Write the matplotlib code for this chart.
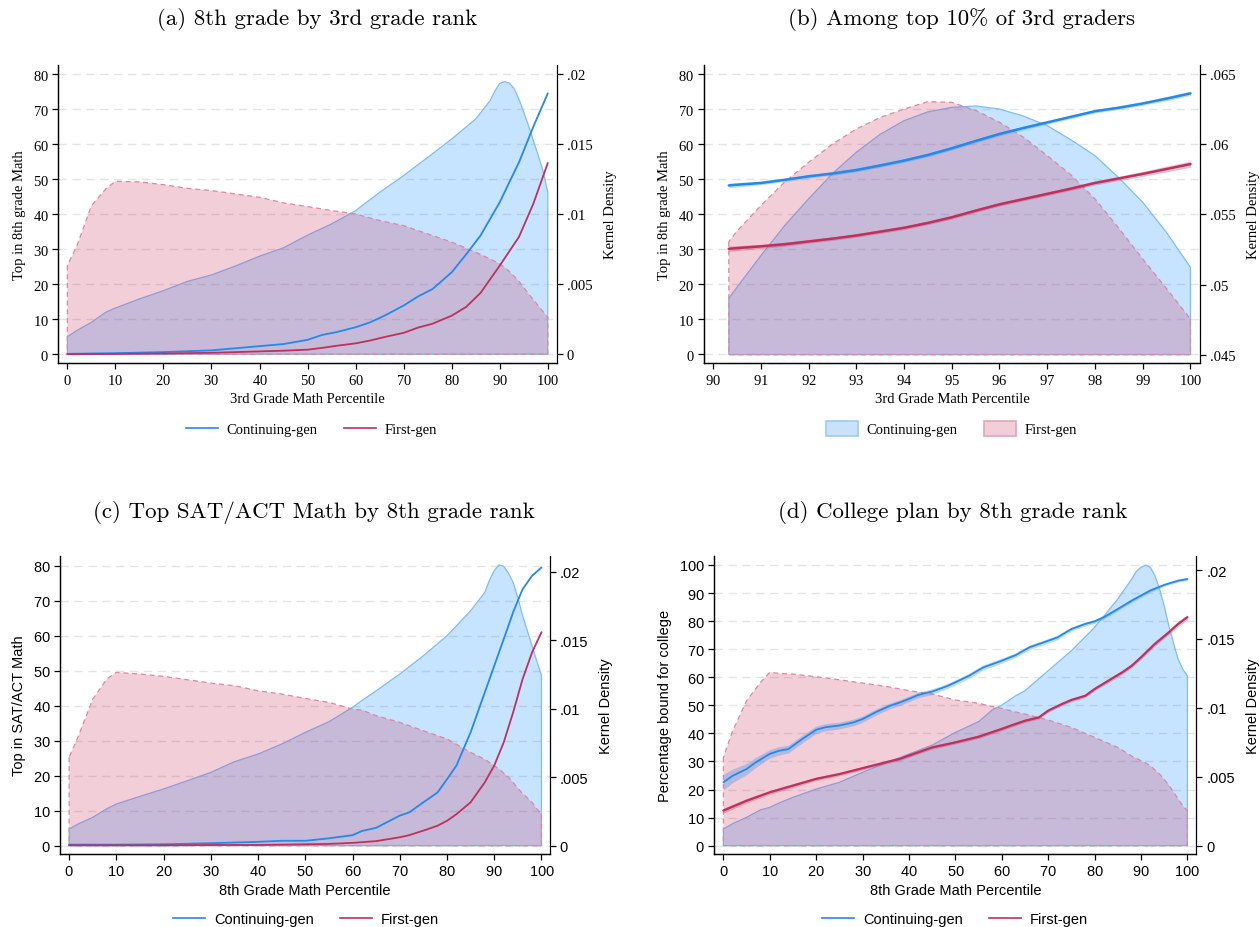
import matplotlib
matplotlib.use("Agg")
import matplotlib.pyplot as plt
from matplotlib.lines import Line2D
from matplotlib.patches import Patch

# ---- panel (a): 8th grade by 3rd grade rank ----
a_x = [0, 10, 20, 30, 40, 45, 50, 53, 56, 60, 63, 66, 70, 73, 76, 80, 83, 86, 90, 94, 97, 100]
a_cont = [0.1, 0.3, 0.6, 1.1, 2.3, 2.9, 4.1, 5.5, 6.3, 7.7, 9.1, 11.0, 13.9, 16.5, 18.6, 23.4, 28.5, 33.9,
          43.4, 54.8, 65.0, 74.5]
a_first = [0.0, 0.1, 0.2, 0.4, 0.8, 1.0, 1.3, 1.8, 2.4, 3.1, 3.9, 4.9, 6.1, 7.6, 8.7, 11.0, 13.5, 17.5,
           25.3, 33.5, 43.0, 54.6]
a_dx = [0, 2, 5, 8, 10, 15, 20, 25, 30, 35, 40, 45, 50, 55, 60, 65, 70, 75, 80, 85, 88, 89, 90, 91,
        92, 93, 94, 95, 96, 97, 98, 99, 100]
a_dcont = [0.00126, 0.0017, 0.00228, 0.0030, 0.0033, 0.00395, 0.00454, 0.0052, 0.00566, 0.0063,
           0.0070, 0.0076, 0.0085, 0.0093, 0.01025, 0.01156, 0.01275, 0.01405, 0.01536, 0.01679,
           0.0181, 0.0188, 0.01932, 0.01945, 0.01935, 0.01895, 0.0182, 0.01727, 0.0163, 0.01524,
           0.0142, 0.0131, 0.01156]
a_dfirst = [0.00633, 0.00775, 0.0106, 0.0118, 0.01234, 0.0123, 0.0121, 0.01184, 0.01168, 0.01144,
            0.0112, 0.0108, 0.01054, 0.01025, 0.01001, 0.00954, 0.00918, 0.00859, 0.0080, 0.00728,
            0.0068, 0.00663, 0.00645, 0.0062, 0.0059, 0.00556, 0.0052, 0.00476, 0.0043, 0.0039,
            0.00347, 0.00305, 0.00264]

# ---- panel (b): among top 10% of 3rd graders ----
b_x = [90.33, 90.5, 91, 91.5, 92, 92.5, 93, 93.5, 94, 94.5, 95, 95.5, 96, 96.5, 97, 97.5, 98, 98.5,
       99, 99.5, 100]
b_cont = [48.2, 48.4, 48.9, 49.8, 50.8, 51.6, 52.6, 53.9, 55.3, 56.9, 58.8, 60.9, 62.9, 64.6, 66.2,
          67.8, 69.4, 70.4, 71.6, 73.0, 74.5]
b_first = [30.1, 30.3, 30.8, 31.4, 32.2, 33.0, 33.9, 35.0, 36.1, 37.5, 39.1, 41.0, 42.8, 44.3, 45.8,
           47.3, 48.9, 50.2, 51.5, 52.9, 54.3]
b_cont_ci = [0.6, 0.6, 0.5, 0.5, 0.5, 0.5, 0.5, 0.5, 0.5, 0.5, 0.5, 0.5, 0.5, 0.5, 0.5, 0.5, 0.5,
             0.5, 0.5, 0.6, 0.6]
b_first_ci = [0.8, 0.7, 0.6, 0.6, 0.5, 0.5, 0.5, 0.5, 0.5, 0.5, 0.5, 0.5, 0.5, 0.5, 0.5, 0.5, 0.6,
              0.6, 0.7, 0.8, 0.9]
b_dcont = [0.04901, 0.0498, 0.05205, 0.0542, 0.0561, 0.0579, 0.05942, 0.0607, 0.06167, 0.0623,
           0.06262, 0.06272, 0.0625, 0.062, 0.06132, 0.0603, 0.05918, 0.0576, 0.05586, 0.0537,
           0.05122]
b_dfirst = [0.05305, 0.0538, 0.05562, 0.0573, 0.0587, 0.060, 0.06108, 0.0619, 0.0625, 0.06303,
            0.06298, 0.0624, 0.06156, 0.0605, 0.05918, 0.0578, 0.0561, 0.054, 0.05182, 0.0497,
            0.04754]

# ---- panel (c): top SAT/ACT math by 8th grade rank ----
c_x = [0, 10, 20, 30, 40, 45, 50, 55, 60, 62, 65, 70, 72, 75, 78, 80, 82, 85, 88, 90, 92, 94, 96,
       98, 100]
c_cont = [0.3, 0.3, 0.4, 0.7, 1.1, 1.4, 1.4, 2.1, 3.0, 4.2, 5.1, 8.6, 9.5, 12.4, 15.2, 19.0, 22.9,
          32.4, 43.8, 51.4, 59.0, 66.7, 73.3, 77.1, 79.5]
c_first = [0.1, 0.1, 0.1, 0.2, 0.2, 0.3, 0.4, 0.5, 0.8, 1.0, 1.3, 2.4, 3.0, 4.3, 5.7, 7.1, 9.0,
           12.4, 18.1, 22.9, 29.5, 38.1, 47.6, 55.2, 61.0]
c_dx = [0, 2, 5, 8, 10, 15, 20, 25, 30, 35, 40, 45, 50, 55, 60, 62, 65, 70, 75, 80, 85, 88, 89, 90,
        91, 92, 93, 94, 95, 96, 97, 98, 99, 100]
c_dcont = [0.00122, 0.0016, 0.00207, 0.0027, 0.00304, 0.0036, 0.00414, 0.00474, 0.00535, 0.00613,
           0.00669, 0.00742, 0.00827, 0.00905, 0.0101, 0.0106, 0.01131, 0.01253, 0.01387, 0.01533,
           0.01715, 0.01849, 0.0194, 0.0201, 0.0205, 0.0204, 0.0199, 0.01922, 0.0181, 0.01679,
           0.0157, 0.0146, 0.0135, 0.01241]
c_dfirst = [0.00645, 0.00803, 0.0107, 0.01217, 0.01265, 0.01253, 0.01236, 0.01212, 0.01187,
            0.01168, 0.01131, 0.01107, 0.01075, 0.01046, 0.00998, 0.0099, 0.00949, 0.009, 0.00839,
            0.00779, 0.00681, 0.0063, 0.00607, 0.00584, 0.0056, 0.0053, 0.005, 0.0046, 0.0042,
            0.0038, 0.0035, 0.00316, 0.0027, 0.00231]

# ---- panel (d): college plan by 8th grade rank ----
d_x_cont = [0, 2, 5, 7, 10, 12, 14, 17, 20, 22, 25, 28, 30, 33, 36, 38, 40, 42, 45, 48, 50, 53, 56,
            60, 63, 66, 70, 72, 75, 78, 80, 82, 85, 88, 90, 92, 95, 98, 100]
d_cont = [22.6, 24.9, 27.3, 29.7, 32.7, 33.8, 34.4, 38.0, 41.3, 42.2, 42.8, 43.9, 45.1, 47.7, 49.9,
          51.0, 52.3, 53.7, 54.9, 56.7, 58.2, 60.6, 63.5, 65.9, 67.9, 70.7, 73.0, 74.2, 77.2, 79.0,
          79.9, 81.4, 84.3, 87.3, 89.1, 90.9, 92.9, 94.4, 95.0]
d_cont_ci = [2.8, 2.4, 2.0, 1.8, 1.5, 1.5, 1.4, 1.4, 1.3, 1.3, 1.2, 1.2, 1.1, 1.1, 1.0, 1.0, 1.0,
             1.0, 1.0, 0.9, 0.9, 0.9, 0.9, 0.9, 0.8, 0.8, 0.8, 0.8, 0.7, 0.7, 0.7, 0.7, 0.6, 0.6,
             0.6, 0.6, 0.5, 0.5, 0.5]
d_x_first = [0, 5, 10, 15, 20, 25, 30, 35, 38, 40, 45, 50, 55, 60, 62, 65, 68, 70, 73, 75, 78, 80,
             83, 86, 88, 90, 93, 96, 98, 100]
d_first = [12.5, 16.0, 19.0, 21.4, 23.8, 25.5, 27.6, 29.7, 30.9, 32.1, 35.0, 36.8, 38.8, 41.6, 42.8,
           44.5, 45.7, 48.1, 50.5, 51.9, 53.4, 55.8, 58.8, 61.8, 64.1, 67.1, 71.9, 76.0, 79.0, 81.4]
d_first_ci = [0.9, 0.8, 0.7, 0.7, 0.6, 0.6, 0.6, 0.6, 0.6, 0.6, 0.6, 0.6, 0.6, 0.6, 0.6, 0.6, 0.6,
              0.6, 0.6, 0.6, 0.6, 0.6, 0.7, 0.7, 0.7, 0.7, 0.8, 0.8, 0.9, 0.9]
d_dx = [0, 2, 5, 8, 10, 12, 15, 20, 25, 30, 35, 40, 45, 50, 55, 58, 60, 63, 65, 70, 75, 80, 85, 88,
        89, 90, 91, 92, 93, 94, 95, 96, 97, 98, 99, 100]
d_dcont = [0.00121, 0.0016, 0.00206, 0.0026, 0.00278, 0.0031, 0.00351, 0.00411, 0.0046, 0.00532,
           0.006, 0.00665, 0.0073, 0.00822, 0.009, 0.00987, 0.0102, 0.01088, 0.01125, 0.0127,
           0.01415, 0.01584, 0.0179, 0.01935, 0.0199, 0.0202, 0.02036, 0.0202, 0.0196, 0.01862,
           0.0174, 0.01596, 0.0147, 0.01354, 0.0128, 0.01233]
d_dfirst = [0.00641, 0.00834, 0.01052, 0.01185, 0.01258, 0.0125, 0.01245, 0.01226, 0.01204, 0.0118,
            0.01156, 0.01125, 0.011, 0.01057, 0.01033, 0.0101, 0.00996, 0.0097, 0.00955, 0.00912,
            0.00858, 0.00786, 0.00713, 0.0065, 0.00634, 0.00617, 0.006, 0.0058, 0.0055, 0.0052,
            0.0048, 0.0044, 0.0039, 0.00339, 0.0029, 0.00254]

dens_ticks_low = [0, 0.005, 0.01, 0.015, 0.02]
dens_labels_low = ["0", ".005", ".01", ".015", ".02"]
dens_ticks_b = [0.045, 0.05, 0.055, 0.06, 0.065]
dens_labels_b = [".045", ".05", ".055", ".06", ".065"]

BLUE = "#2389ec"
RED = "#c0305c"
BLUE_FILL = "#1e90ff"
RED_FILL = "#cc3c66"
BLUE_EDGE = "#82bcf4"
RED_EDGE = "#d98aa2"
GRID = "#e4e4e4"

SERIF = ["Liberation Serif", "DejaVu Serif"]
SANS = ["Liberation Sans", "DejaVu Sans"]
TITLE = ["cmr10", "DejaVu Serif"]
TITLE_SIZE = 16.5

plt.rcParams["axes.unicode_minus"] = False
plt.rcParams["axes.formatter.use_mathtext"] = True

fig = plt.figure(figsize=(12.6, 9.28), dpi=100)


def make_panel(rect, xlim, ylim, ylim2, xticks, yticks, dticks, dlabels, family, fs):
    ax = fig.add_axes(rect)
    ax2 = ax.twinx()
    # lines sit above the density fills of the twin axis
    ax.set_zorder(ax2.get_zorder() + 1)
    ax.patch.set_visible(False)
    ax.set_xlim(*xlim)
    ax.set_ylim(*ylim)
    ax2.set_ylim(*ylim2)
    ax.set_xticks(xticks)
    ax.set_yticks(yticks)
    ax2.set_yticks(dticks)
    ax2.set_yticklabels(dlabels)
    for a in (ax, ax2):
        a.spines["top"].set_visible(False)
        a.tick_params(direction="out", length=4, width=0.9, labelsize=fs, pad=3)
        for s in a.spines.values():
            s.set_linewidth(0.9)
        for lab in a.get_xticklabels() + a.get_yticklabels():
            lab.set_family(family)
    ax.spines["right"].set_visible(False)
    # dashed grid at the left-axis ticks, drawn underneath the translucent fills
    for y in yticks:
        ax2.plot(list(xlim), [y, y], transform=ax.transData, color=GRID,
                 linestyle=(0, (6, 4)), linewidth=1.0, zorder=0.5)
    return ax, ax2


def draw_density(ax2, dx_c, dc, dx_f, df, base):
    ax2.fill_between(dx_c, base, dc, facecolor=BLUE_FILL, alpha=0.25, linewidth=0)
    ax2.fill_between(dx_c, base, dc, facecolor="none", edgecolor=BLUE_EDGE, linewidth=0.9)
    ax2.fill_between(dx_f, base, df, facecolor=RED_FILL, alpha=0.25, linewidth=0)
    ax2.fill_between(dx_f, base, df, facecolor="none", edgecolor=RED_EDGE, linewidth=0.9,
                     linestyle=(0, (4, 3)))


def draw_line(ax, x, y, color, lw, ci=None):
    if ci is not None:
        lo = [v - c for v, c in zip(y, ci)]
        hi = [v + c for v, c in zip(y, ci)]
        ax.fill_between(x, lo, hi, color=color, alpha=0.3, linewidth=0)
    ax.plot(x, y, color=color, linewidth=lw, solid_capstyle="round")


def labels(ax, ax2, xlabel, ylabel, family, fs):
    ax.set_xlabel(xlabel, family=family, fontsize=fs, labelpad=4)
    ax.set_ylabel(ylabel, family=family, fontsize=fs, labelpad=5)
    ax2.set_ylabel("Kernel Density", family=family, fontsize=fs, labelpad=8)


def line_legend(x, y, family, fs):
    handles = [Line2D([], [], color=BLUE, lw=1.2), Line2D([], [], color=RED, lw=1.2)]
    fig.legend(handles, ["Continuing-gen", "First-gen"], loc="center",
               bbox_to_anchor=(x, y), ncol=2, frameon=False, handlelength=2.2,
               columnspacing=1.8, handletextpad=0.6, prop={"family": family, "size": fs})


# (a)
ax, ax2 = make_panel([0.0464, 0.6078, 0.3956, 0.3211], (-1.85, 101.9), (-2.5, 82.6),
                     (-0.00062, 0.02064), range(0, 101, 10), range(0, 81, 10),
                     dens_ticks_low, dens_labels_low, SERIF, 10.5)
draw_density(ax2, a_dx, a_dcont, a_dx, a_dfirst, 0)
draw_line(ax, a_x, a_cont, BLUE, 1.3)
draw_line(ax, a_x, a_first, RED, 1.3)
labels(ax, ax2, "3rd Grade Math Percentile", "Top in 8th grade Math", SERIF, 10.5)
fig.text(0.252, 0.979, "(a) 8th grade by 3rd grade rank", family=TITLE, fontsize=TITLE_SIZE,
         ha="center", va="center")
line_legend(0.247, 0.536, SERIF, 10.5)

# (b)
ax, ax2 = make_panel([0.5587, 0.6078, 0.3937, 0.3211], (89.81, 100.2), (-2.5, 82.6),
                     (0.04441, 0.06564), range(90, 101), range(0, 81, 10),
                     dens_ticks_b, dens_labels_b, SERIF, 10.5)
draw_density(ax2, b_x, b_dcont, b_x, b_dfirst, 0.045)
draw_line(ax, b_x, b_cont, BLUE, 1.8, b_cont_ci)
draw_line(ax, b_x, b_first, RED, 1.8, b_first_ci)
labels(ax, ax2, "3rd Grade Math Percentile", "Top in 8th grade Math", SERIF, 10.5)
fig.text(0.763, 0.979, "(b) Among top 10% of 3rd graders", family=TITLE, fontsize=TITLE_SIZE,
         ha="center", va="center")
patch_handles = [Patch(facecolor="#c8e2fb", edgecolor="#9ccbf6", linewidth=1.2),
                 Patch(facecolor="#f2ced8", edgecolor="#e3a6b8", linewidth=1.2)]
fig.legend(patch_handles, ["Continuing-gen", "First-gen"], loc="center",
           bbox_to_anchor=(0.755, 0.537), ncol=2, frameon=False, handlelength=2.2,
           handleheight=1.2, columnspacing=1.8, handletextpad=0.6,
           prop={"family": SERIF, "size": 10.5})

# (c)
ax, ax2 = make_panel([0.0478, 0.0787, 0.3887, 0.3208], (-1.88, 101.8), (-2.37, 82.7),
                     (-0.000606, 0.02113), range(0, 101, 10), range(0, 81, 10),
                     dens_ticks_low, dens_labels_low, SANS, 10.5)
draw_density(ax2, c_dx, c_dcont, c_dx, c_dfirst, 0)
draw_line(ax, c_x, c_cont, BLUE, 1.3)
draw_line(ax, c_x, c_first, RED, 1.3)
labels(ax, ax2, "8th Grade Math Percentile", "Top in SAT/ACT Math", SANS, 10.5)
fig.text(0.249, 0.448, "(c) Top SAT/ACT Math by 8th grade rank", family=TITLE,
         fontsize=TITLE_SIZE, ha="center", va="center")
line_legend(0.243, 0.009, SANS, 10.5)

# (d)
ax, ax2 = make_panel([0.5669, 0.0787, 0.3827, 0.3208], (-1.96, 101.96), (-2.96, 103.1),
                     (-0.0006, 0.021), range(0, 101, 10), range(0, 101, 10),
                     dens_ticks_low, dens_labels_low, SANS, 10.5)
draw_density(ax2, d_dx, d_dcont, d_dx, d_dfirst, 0)
draw_line(ax, d_x_cont, d_cont, BLUE, 1.3, d_cont_ci)
draw_line(ax, d_x_first, d_first, RED, 1.6, d_first_ci)
labels(ax, ax2, "8th Grade Math Percentile", "Percentage bound for college", SANS, 10.5)
fig.text(0.756, 0.448, "(d) College plan by 8th grade rank", family=TITLE, fontsize=TITLE_SIZE,
         ha="center", va="center")
line_legend(0.758, 0.009, SANS, 10.5)

fig.savefig("out.png", dpi=100)
